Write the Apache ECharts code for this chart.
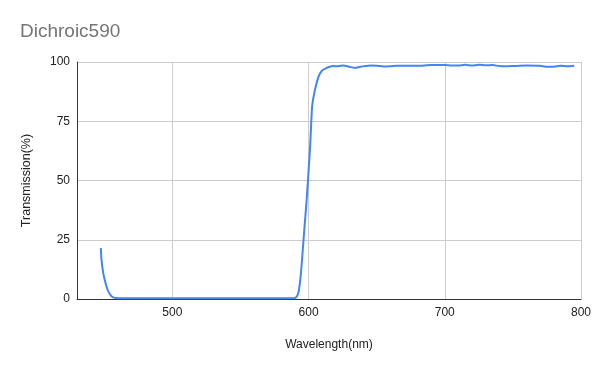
<!DOCTYPE html>
<html>
<head>
<meta charset="utf-8">
<script src="https://cdn.jsdelivr.net/npm/echarts@6/dist/echarts.min.js"></script>
<style>html,body{margin:0;padding:0;background:#fff}#c{width:600px;height:371px}</style>
</head>
<body>
<div id="c"></div>
<script>
const wavelengths = [447.5,448,449.3,451,452.5,454,455.5,457,459,462,470,480,490,500,510,520,530,540,550,560,570,580,588,590,591,592,593,594.5,596.3,598.3,599.5,601.2,602,602.7,604.4,606.8,608.5,610.5,613,615.4,618,620,625,630,634,638,642,646,650,655,660,665,670,680,690,700,705,710,715,720,725,730,735,740,745,750,760,770,775,780,785,790,795];
const transmission = [21.5,16.4,10.8,6.6,3.8,2.2,1.1,0.6,0.4,0.3,0.3,0.3,0.3,0.3,0.3,0.3,0.3,0.3,0.3,0.3,0.3,0.3,0.3,0.4,0.8,1.8,4,11.5,25,39.7,49.5,65,75,81.8,87.5,93,95.3,96.6,97.4,98,98.3,98.2,98.5,98.0,97.5,98.0,98.3,98.5,98.4,98.1,98.2,98.4,98.4,98.4,98.7,98.7,98.5,98.5,98.8,98.5,98.8,98.6,98.7,98.3,98.2,98.3,98.5,98.4,98.0,98.0,98.4,98.2,98.4];
const xTicks = [500,600,700,800];
const yTicks = [0,25,50,75,100];
const titleText = 'Dichroic590';
const xName = 'Wavelength(nm)';
const yName = 'Transmission(%)';

const chart = echarts.init(document.getElementById('c'), null, {renderer:'canvas'});
const font = 'Arial, "Liberation Sans", sans-serif';
chart.setOption({
  animation:false,
  title:{text:titleText,left:15,top:17,textStyle:{fontFamily:font,fontSize:19,fontWeight:'normal',color:'#757575'}},
  grid:{left:77,right:19,top:62,bottom:72,containLabel:false},
  xAxis:{type:'value',min:430,max:800,
    name:xName,nameLocation:'middle',nameGap:40,nameTextStyle:{fontFamily:font,fontSize:12,color:'#222'},
    axisLine:{show:true,lineStyle:{color:'#333',width:1}},
    axisTick:{show:false,customValues:xTicks},
    axisLabel:{customValues:xTicks,fontFamily:font,fontSize:12,color:'#222',margin:8,showMinLabel:true,showMaxLabel:true},
    splitLine:{show:true,lineStyle:{color:'#cccccc',width:1}}},
  yAxis:{type:'value',min:0,max:100,interval:25,
    name:yName,nameLocation:'middle',nameGap:44,nameTextStyle:{fontFamily:font,fontSize:12.5,color:'#222'},
    axisLine:{show:true,lineStyle:{color:'#333',width:1}},
    axisTick:{show:false},
    axisLabel:{fontFamily:font,fontSize:12,color:'#222',margin:7},
    splitLine:{show:true,lineStyle:{color:'#cccccc',width:1}}},
  series:[{type:'line',data:wavelengths.map((w,i)=>[w,transmission[i]]),showSymbol:false,smooth:0.2,
    lineStyle:{color:'#4285F4',width:2},itemStyle:{color:'#4285F4'}}]
});
</script>
</body>
</html>
